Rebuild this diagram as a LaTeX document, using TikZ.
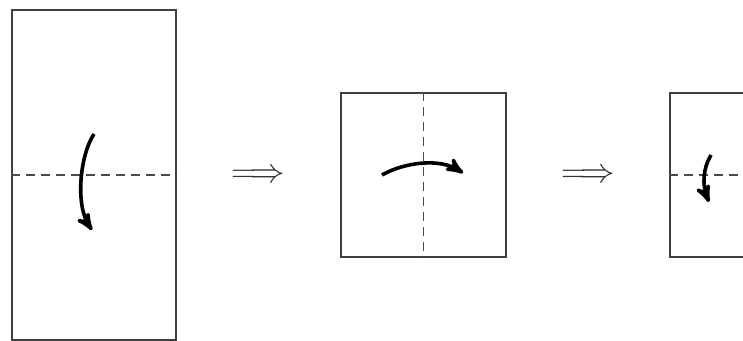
\documentclass[tikz,border=0pt]{standalone}
\usepackage{amsmath}
\usetikzlibrary{arrows, positioning}
\begin{document}
\begin{tikzpicture}[x=0.5pt, y=-0.5pt,
    sheet/.style={rectangle, draw=black!75, line width=0.7pt, inner sep=0pt},
    crease/.style={draw=black!70, line width=0.7pt, dash pattern=on 4.5pt off 3pt},
    fold/.style={line width=1.8pt, -stealth'},
    thenarrow/.style={font=\LARGE, inner sep=0pt, text=black!80},
  ]
  \clip (0,0) rectangle (743,341);

  % paper sheets
  \node[sheet, minimum width=82pt, minimum height=165pt] (long) at (94,175) {};
  \node[sheet, minimum width=82.5pt, minimum height=82pt] (half) at (423.5,175) {};
  \node[sheet, minimum width=82.5pt, minimum height=82pt] (quarter) at (752.5,175) {};

  % creases
  \draw[crease] (long.west) -- (long.east);
  \draw[crease] (half.north) -- (half.south);
  \draw[crease] (quarter.west) -- (quarter.east);

  % fold directions
  \draw[fold] (94,134) .. controls (80,155) and (75,205) .. (92,230);
  \draw[fold] (382,175) .. controls (405,162) and (440,158) .. (463,173);
  \draw[fold] (711,155) .. controls (703,168) and (702,185) .. (709,202);

  % steps
  \node[thenarrow] (then1) at (258,176) {$\Longrightarrow$};
  \node[thenarrow] (then2) at (588,176) {$\Longrightarrow$};
\end{tikzpicture}
\end{document}
